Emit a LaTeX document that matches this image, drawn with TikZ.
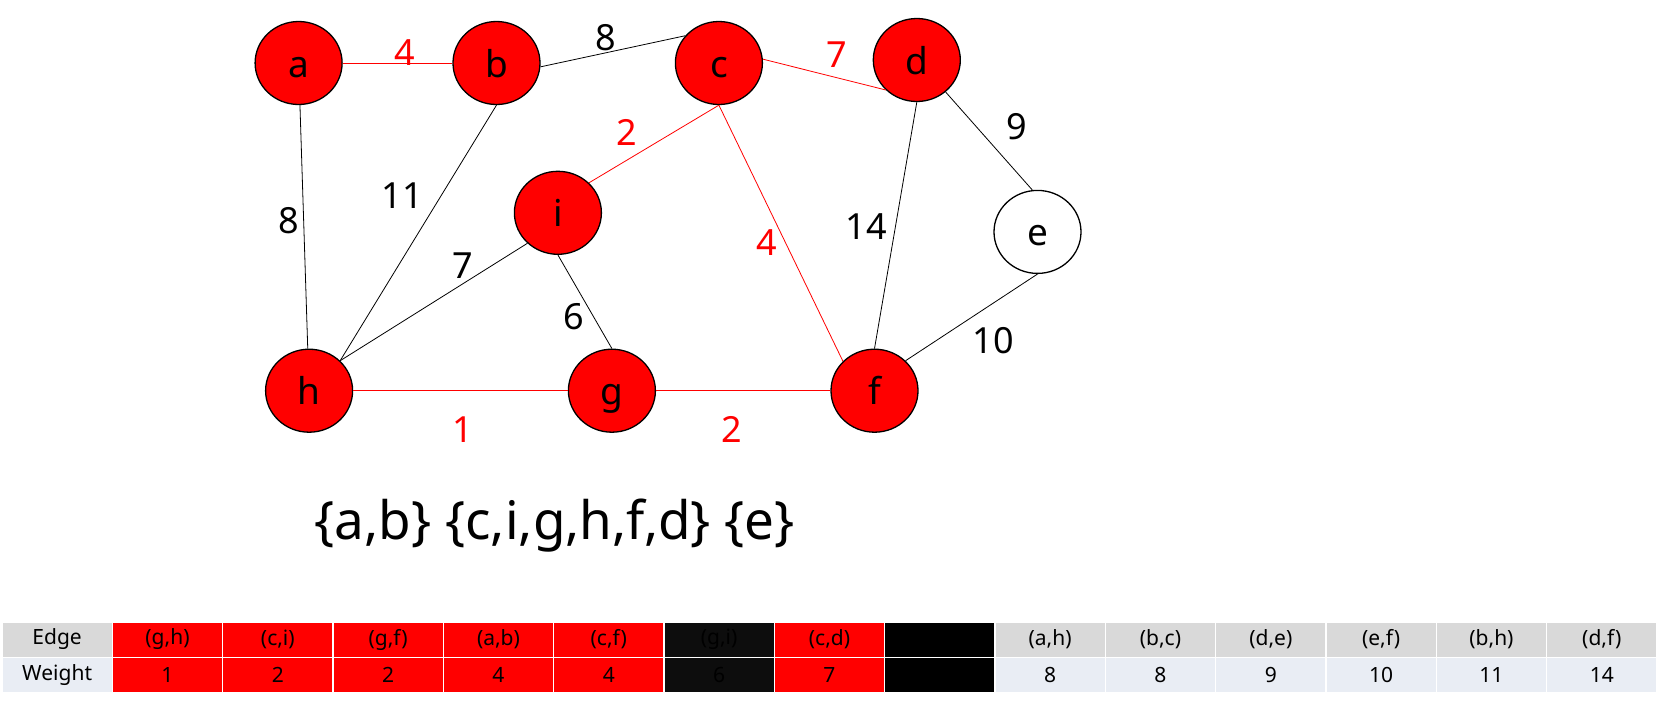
\documentclass[tikz,border=0pt]{standalone}
\usepackage{fontspec}
\setmainfont{Noto Sans}
\usetikzlibrary{shapes.geometric}
\definecolor{pred}{HTML}{FF0000}
\definecolor{hdr}{HTML}{D9D9D9}
\definecolor{wrow}{HTML}{E9EDF4}
\definecolor{dk}{HTML}{0D0D0D}
\begin{document}
\begin{tikzpicture}[x=1pt,y=-1pt,
 vtx/.style={ellipse,draw=black,line width=1.3pt,fill=pred,minimum width=87pt,minimum height=83pt,inner sep=0pt,text height=28pt,text depth=0pt,font=\fontsize{37}{37}\selectfont},
 wvtx/.style={vtx,fill=white},
 edg/.style={line width=0.8pt,black},
 redg/.style={line width=0.8pt,pred},
 wl/.style={font=\fontsize{36}{36}\selectfont,inner sep=0pt},
 rwl/.style={wl,text=pred},
 cell/.style={draw=white,line width=1.5pt,minimum width=110.33pt,minimum height=35.5pt,inner sep=0pt,font=\fontsize{21}{21}\selectfont,anchor=center}]
\useasboundingbox[fill=white] (0,0) rectangle (1660,705);

% vertices
\node[vtx] (a) at (298.6,63) {a};
\node[vtx] (b) at (496.5,63) {b};
\node[vtx] (c) at (718.9,63) {c};
\node[vtx] (d) at (916.8,60) {d};
\node[vtx] (i) at (557.9,212.8) {i};
\node[wvtx] (e) at (1037.5,231.9) {e};
\node[vtx] (h) at (309.1,390.7) {h};
\node[vtx] (g) at (611.9,390.7) {g};
\node[vtx] (f) at (874.5,390.7) {f};

% edges
\draw[redg] (a) -- (b);
\draw[edg] (b.-5) -- (c.141);
\draw[redg] (c.5) -- (d.224);
\draw[edg] (a) -- (h);
\draw[edg] (b.south) -- (h.44);
\draw[redg] (c.south) -- (i.44);
\draw[redg] (c.south) -- (f.137);
\draw[edg] (d.south) -- (f.north);
\draw[edg] (d.-48) -- (e.97);
\draw[edg] (e.south) -- (f.44);
\draw[edg] (i.225) -- (h.44);
\draw[edg] (i.south) -- (g.north);
\draw[redg] (h) -- (g);
\draw[redg] (g) -- (f);

% weights
\node[rwl] (lab) at (404.4,52.9) {4};
\node[wl] (lbc) at (605.6,38.1) {8};
\node[rwl] (lcd) at (836.4,55) {7};
\node[rwl] (lci) at (626.7,132.3) {2};
\node[wl] (lah) at (289,220.2) {8};
\node[wl] (lbh) at (402.3,195.9) {11};
\node[wl] (lih) at (462.7,265.7) {7};
\node[wl] (lig) at (573.8,316.6) {6};
\node[rwl] (lcf) at (766.5,242.4) {4};
\node[wl] (ldf) at (866,226.6) {14};
\node[wl] (lde) at (1016.4,127) {9};
\node[wl] (lef) at (993,340.9) {10};
\node[rwl] (lhg) at (462.7,429.8) {1};
\node[rwl] (lgf) at (731.6,429.8) {2};

% sets
\node[font=\fontsize{53}{53}\selectfont,inner sep=0pt] (sets) at (554.8,526) {\{a,b\} \{c,i,g,h,f,d\} \{e\}};

% table
\foreach \k/\t/\f in {0/Edge/hdr,1/{(g,h)}/pred,2/{(c,i)}/pred,3/{(g,f)}/pred,4/{(a,b)}/pred,5/{(c,f)}/pred,6/{(g,i)}/dk,7/{(c,d)}/pred,8/{}/black,9/{(a,h)}/hdr,10/{(b,c)}/hdr,11/{(d,e)}/hdr,12/{(e,f)}/hdr,13/{(b,h)}/hdr,14/{(d,f)}/hdr}
  \node[cell,fill=\f] (h\k) at ({2+(\k+0.5)*110.33},639.5) {\t};
\foreach \k/\t/\f in {0/Weight/wrow,1/1/pred,2/2/pred,3/2/pred,4/4/pred,5/4/pred,6/6/dk,7/7/pred,8/{}/black,9/8/wrow,10/8/wrow,11/9/wrow,12/10/wrow,13/11/wrow,14/14/wrow}
  \node[cell,fill=\f] (w\k) at ({2+(\k+0.5)*110.33},675) {\t};
\end{tikzpicture}
\end{document}
